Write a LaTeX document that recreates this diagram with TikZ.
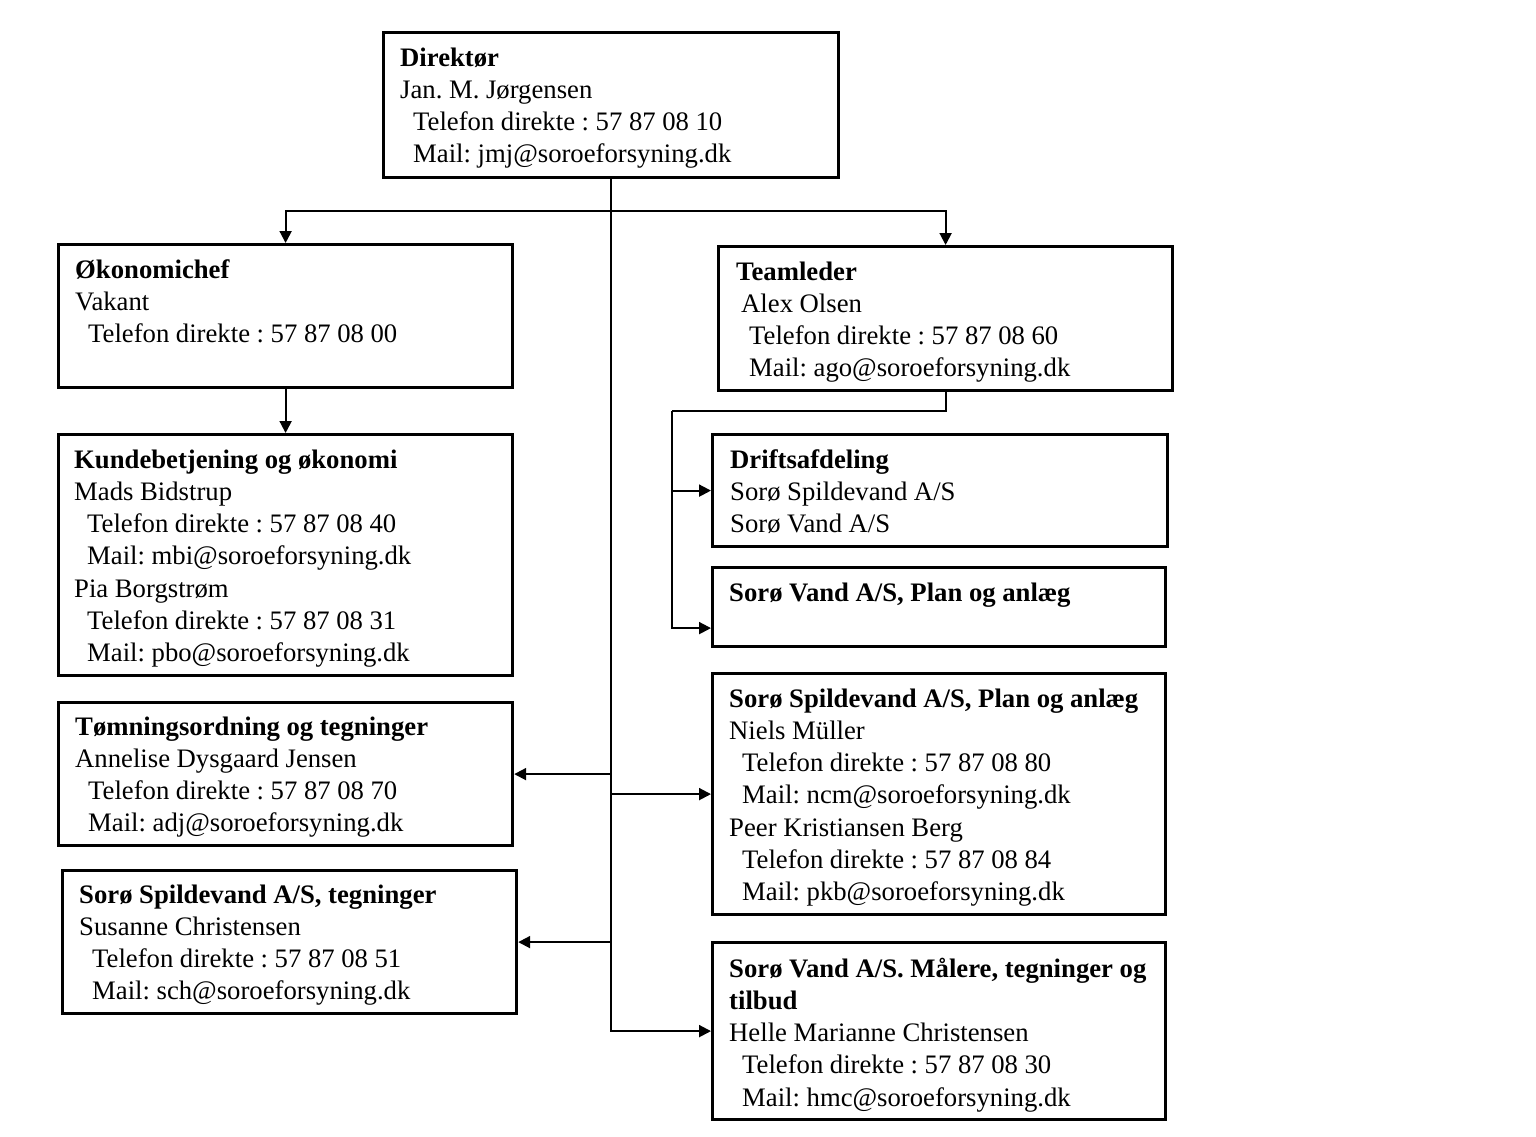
\documentclass[tikz,border=0pt]{standalone}
\usepackage{fontspec}
\setmainfont{Liberation Serif}
\usetikzlibrary{arrows.meta}
\newcommand\myind{\hspace*{13pt}}
\newcommand\mystrut{\rule{0pt}{24pt}}
\newcommand\tightsp{\spaceskip=6.6pt\relax}
\frenchspacing
\begin{document}
\begin{tikzpicture}[x=1pt,y=-1pt,
  box/.style={draw, line width=3.2pt, anchor=north west, inner sep=0pt},
  txt/.style={anchor=north west, inner sep=0pt, text width=470pt, align=left,
    font=\fontsize{26.7}{32.2}\selectfont},
  conn/.style={line width=2pt},
  arr/.style={line width=2pt, -{Triangle[length=12pt,width=12pt]}}]
\useasboundingbox (0,0) rectangle (1536,1137);
% boxes
\node[box, minimum width=455pt, minimum height=145pt] (dir)   at (382,31)  {};
\node[box, minimum width=454pt, minimum height=143pt] (oko)   at (57,243)  {};
\node[box, minimum width=454pt, minimum height=144pt] (team)  at (717,245) {};
\node[box, minimum width=454pt, minimum height=241pt] (kunde) at (57,433)  {};
\node[box, minimum width=455pt, minimum height=112pt] (drift) at (711,433) {};
\node[box, minimum width=453pt, minimum height=79pt]  (vplan) at (711,566) {};
\node[box, minimum width=454pt, minimum height=143pt] (tom)   at (57,701)  {};
\node[box, minimum width=454pt, minimum height=143pt] (stegn) at (61,869)  {};
\node[box, minimum width=453pt, minimum height=241pt] (splan) at (711,672) {};
\node[box, minimum width=453pt, minimum height=177pt] (vmaal) at (711,941) {};
% texts
\node[txt] (tdir) at (400,42) {\tightsp\noindent\mystrut\textbf{Direktør}\\
Jan. M. Jørgensen\\
\myind Telefon direkte : 57 87 08 10\\
\myind Mail: jmj@soroeforsyning.dk};
\node[txt] (toko) at (75,254) {\tightsp\noindent\mystrut\textbf{Økonomichef}\\
Vakant\\
\myind Telefon direkte : 57 87 08 00};
\node[txt] (tteam) at (736,256) {\tightsp\noindent\mystrut\textbf{Teamleder}\\
\hspace*{5pt}Alex Olsen\\
\myind Telefon direkte : 57 87 08 60\\
\myind Mail: ago@soroeforsyning.dk};
\node[txt] (tkunde) at (74,444) {\tightsp\noindent\mystrut\textbf{Kundebetjening og økonomi}\\
Mads Bidstrup\\
\myind Telefon direkte : 57 87 08 40\\
\myind Mail: mbi@soroeforsyning.dk\\
Pia Borgstrøm\\
\myind Telefon direkte : 57 87 08 31\\
\myind Mail: pbo@soroeforsyning.dk};
\node[txt] (tdrift) at (730,444) {\tightsp\noindent\mystrut\textbf{Driftsafdeling}\\
Sorø Spildevand A/S\\
Sorø Vand A/S};
\node[txt] (tvplan) at (729,577) {\tightsp\noindent\mystrut\textbf{Sorø Vand A/S, Plan og anlæg}};
\node[txt] (ttom) at (75,711) {\tightsp\noindent\mystrut\textbf{Tømningsordning og tegninger}\\
Annelise Dysgaard Jensen\\
\myind Telefon direkte : 57 87 08 70\\
\myind Mail: adj@soroeforsyning.dk};
\node[txt] (tstegn) at (79,879) {\tightsp\noindent\mystrut\textbf{Sorø Spildevand A/S, tegninger}\\
Susanne Christensen\\
\myind Telefon direkte : 57 87 08 51\\
\myind Mail: sch@soroeforsyning.dk};
\node[txt] (tsplan) at (729,683) {\tightsp\noindent\mystrut\textbf{Sorø Spildevand A/S, Plan og anlæg}\\
Niels Müller\\
\myind Telefon direkte : 57 87 08 80\\
\myind Mail: ncm@soroeforsyning.dk\\
Peer Kristiansen Berg\\
\myind Telefon direkte : 57 87 08 84\\
\myind Mail: pkb@soroeforsyning.dk};
\node[txt] (tvmaal) at (729,953) {\tightsp\noindent\mystrut\textbf{Sorø Vand A/S. Målere, tegninger og}\\
\textbf{tilbud}\\
Helle Marianne Christensen\\
\myind Telefon direkte : 57 87 08 30\\
\myind Mail: hmc@soroeforsyning.dk};
% connectors
\coordinate (bus) at (611,211);
\coordinate (tk) at (672,411);
\draw[arr] (dir.south) |- (vmaal.west);
\draw[arr] (bus) -| (oko.north);
\draw[arr] (bus) -| (team.north);
\draw[arr] (oko.south) -- (kunde.north);
\draw[conn] (team.south) |- (tk);
\draw[arr] (tk) |- (drift.west);
\draw[arr] (tk) |- ([yshift=-21pt]vplan.west);
\draw[arr] (dir.south |- tom.east) -- (tom.east);
\draw[arr] (dir.south |- stegn.east) -- (stegn.east);
\draw[arr] (dir.south |- splan.west) -- (splan.west);
\end{tikzpicture}
\end{document}
